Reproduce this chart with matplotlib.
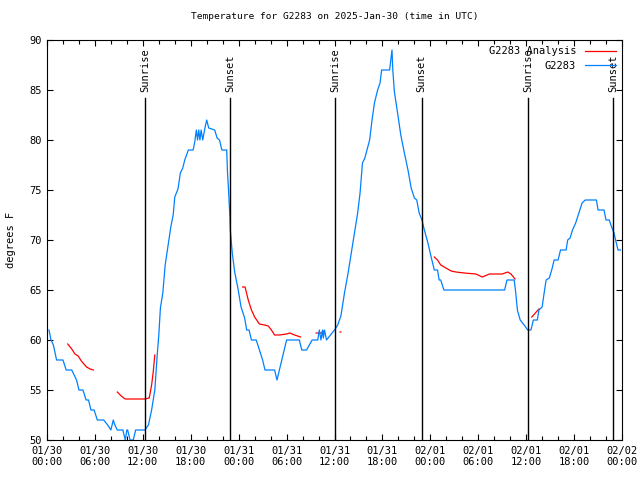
import numpy as np
import matplotlib
matplotlib.use('Agg')
import matplotlib.pyplot as plt

nan = np.nan

# hours since 2025-01-30 00:00 UTC, temperatures in degrees F
obs_hours = [0.25, 0.5, 0.8, 1.2, 2.0, 2.4, 3.1, 3.4, 3.7, 4.0, 4.5, 4.9, 5.2, 5.5, 5.9, 6.3, 7.1, 7.6, 8.0, 8.3,
             8.5, 8.8, 9.5, 9.8, 10.0, 10.1, 10.4, 10.8, 11.1, 12.25, 12.7, 13.1, 13.5, 13.8, 14.0, 14.2, 14.5, 14.8,
             15.2, 15.5, 15.8, 16.0, 16.4, 16.7, 17.0, 17.25, 17.7, 18.3, 18.5, 18.7, 18.85, 19.0, 19.15, 19.3, 19.5,
             19.8, 20.0, 20.25, 21.0, 21.3, 21.6, 21.9, 22.5, 22.6, 22.75, 22.9, 22.95, 23.2, 23.5, 23.9, 24.3, 24.75,
             25.0, 25.3, 25.6, 26.2, 26.6, 27.0, 27.3, 28.5, 28.8, 29.1, 29.7, 30.0, 31.6, 31.9, 32.5, 33.2, 33.9,
             34.1, 34.3, 34.5, 34.6, 34.75, 35.0, 36.0, 36.4, 36.8, 37.25, 37.7, 38.1, 38.5, 38.9, 39.2, 39.5, 39.8,
             40.4, 40.7, 41.0, 41.4, 41.7, 41.9, 42.9, 43.2, 43.3, 43.5, 43.9, 44.3, 44.75, 45.2, 45.6, 46.0, 46.3,
             46.6, 46.95, 47.25, 47.7, 48.1, 48.5, 48.9, 49.1, 49.3, 49.7, 57.3, 57.6, 58.5, 58.7, 58.9, 59.25, 59.75,
             60.2, 60.6, 60.9, 61.4, 61.6, 62.0, 62.25, 62.5, 62.9, 63.2, 63.5, 64.0, 64.3, 65.0, 65.2, 65.5, 65.8,
             66.2, 66.6, 67.0, 67.4, 68.8, 69.0, 69.75, 70.0, 70.4, 70.7, 71.0, 71.2, 71.5, 71.8]
obs_temp = [61, 60, 59.5, 58, 58, 57, 57, 56.5, 56, 55, 55, 54, 54, 53, 53, 52, 52, 51.5, 51, 52,
            51.5, 51, 51, 50, 51, 51, 50, 50, 51, 51, 51.5, 53, 55, 58.5, 60.5, 63.2, 64.7, 67.5,
            69.7, 71.3, 72.5, 74.3, 75.1, 76.7, 77.2, 78, 79, 79, 79.8, 81, 80, 81, 80, 81, 80,
            81.3, 82, 81.2, 81, 80.2, 80, 79, 79, 76.8, 74.7, 72.3, 71, 68.7, 66.8, 65.2, 63.3, 62.2,
            61, 61, 60, 60, 59, 58, 57, 57, 56, 57, 59, 60, 60, 59, 59, 60, 60,
            61, 60, 61, 60.2, 61, 60, 61, 61.5, 62.4, 64.7, 66.7, 68.7, 70.7, 72.7, 74.7, 77.7, 78.2,
            80, 82, 83.7, 85, 85.7, 87, 87, 89, 87, 84.8, 82.7, 80.5, 78.7, 77, 75.2, 74.2, 74,
            72.7, 72, 71, 69.7, 68.3, 67, 67, 66, 66, 65, 65, 66, 66, 64.7, 63, 62, 61.5,
            61, 61, 62, 62, 63, 63.3, 64.7, 66, 66.2, 67, 68, 68, 69, 69, 70, 70.2, 71,
            71.7, 72.7, 73.7, 74, 74, 73, 73, 72, 72, 71.3, 70.7, 70, 69, 69]

ana_hours = [2.6, 3.1, 3.5, 3.9, 4.3, 4.95, 5.4, 5.8, nan,
             8.8, 9.3, 9.8, 12.25, 12.8, 13.1, 13.3, 13.5, nan,
             24.5, 24.8, 25.2, 25.6, 26.0, 26.6, 27.25, 27.7, 28.1, 28.5, 29.1, 30.0, 30.4, 31.0, 31.75, nan,
             33.7, 34.3, 34.7, nan, 36.7, 36.8, nan,
             48.5, 48.9, 49.3, 49.95, 50.6, 51.2, 52.25, 53.7, 54.5, 55.4, 57.0, 57.7, 58.1, 58.6, nan,
             60.7, 61.6]
ana_temp = [59.6, 59.1, 58.6, 58.4, 57.9, 57.3, 57.1, 57, nan,
            54.8, 54.4, 54.1, 54.1, 54.2, 55.5, 56.8, 58.5, nan,
            65.3, 65.3, 64, 63, 62.3, 61.6, 61.5, 61.4, 61, 60.5, 60.5, 60.6, 60.7, 60.5, 60.3, nan,
            60.7, 60.7, 60.9, nan, 60.8, 60.8, nan,
            68.3, 68, 67.5, 67.2, 66.9, 66.8, 66.7, 66.6, 66.3, 66.6, 66.6, 66.8, 66.6, 66.1, nan,
            62.3, 63.1]

sun_hours = [12.3, 22.9, 36.1, 46.9, 60.2, 70.9]
sun_labels = ['Sunrise', 'Sunset', 'Sunrise', 'Sunset', 'Sunrise', 'Sunset']

tick_hours = list(range(0, 73, 6))
tick_labels = ['01/30\n00:00', '01/30\n06:00', '01/30\n12:00', '01/30\n18:00',
               '01/31\n00:00', '01/31\n06:00', '01/31\n12:00', '01/31\n18:00',
               '02/01\n00:00', '02/01\n06:00', '02/01\n12:00', '02/01\n18:00',
               '02/02\n00:00']

plt.rcParams['font.family'] = 'DejaVu Sans Mono'

fig = plt.figure(figsize=(6.4, 4.8), dpi=100)
ax = fig.add_axes([47/640, 40/480, 575/640, 400/480])

ax.plot(ana_hours, ana_temp, color='#ff0000', lw=0.9, label='G2283 Analysis')
ax.plot(obs_hours, obs_temp, color='#0080ff', lw=0.9, label='G2283')

for h, lab in zip(sun_hours, sun_labels):
    ax.plot([h, h], [50, 84.2], color='black', lw=1.0)
    ax.text(h, 84.8, lab, rotation=90, ha='center', va='bottom', fontsize=7.5)

ax.set_xlim(0, 72)
ax.set_ylim(50, 90)
ax.set_xticks(tick_hours)
ax.set_xticklabels(tick_labels, fontsize=7.5)
ax.set_xticks(range(0, 73, 2), minor=True)
ax.set_yticks(range(50, 91, 5))
ax.tick_params(axis='y', labelsize=7.5)
ax.tick_params(which='both', direction='in', top=True, right=True, length=4, width=0.8)
ax.tick_params(which='minor', length=3)
ax.tick_params(axis='x', pad=4)

ax.set_ylabel('degrees F', fontsize=7.5, labelpad=10)
ax.set_title('Temperature for G2283 on 2025-Jan-30 (time in UTC)', fontsize=6.8, pad=15)

ax.legend(loc='upper right', frameon=False, fontsize=7.5, markerfirst=False,
          handlelength=3.0, handletextpad=0.8, labelspacing=0.45,
          borderaxespad=0.5, borderpad=0.1)

fig.savefig('out.png', dpi=100)
